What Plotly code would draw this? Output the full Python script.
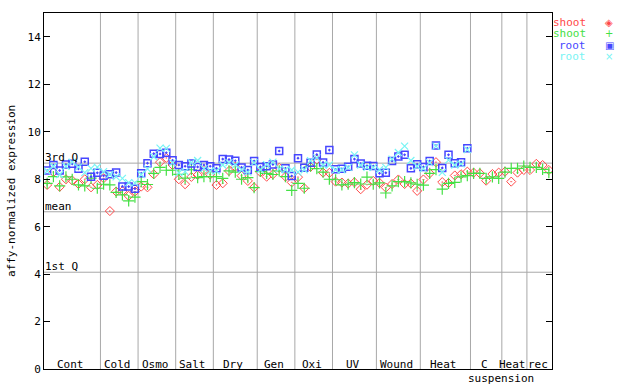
import plotly.graph_objects as go

groups = ["Cont", "Cold", "Osmo", "Salt", "Dry", "Gen", "Oxi", "UV", "Wound", "Heat", "C", "Heat", "rec"]
group_sizes = [9, 6, 6, 6, 7, 6, 6, 7, 7, 8, 5, 4, 4]

shoot_a = [7.76, 8.30, 7.68, 8.00, 7.95, 7.80, 8.00, 7.66, 7.76,
           8.04, 6.66, 7.48, 7.50, 7.30, 7.48,
           7.69, 7.66, 8.21, 8.72, 8.90, 8.60,
           8.00, 7.79, 8.10, 8.18, 8.39, 8.20,
           7.76, 7.83, 8.35, 8.53, 8.15, 7.93, 7.66,
           8.30, 8.11, 8.21, 8.48, 8.11, 7.87,
           8.09, 7.62, 8.52, 8.83, 8.28, 8.27,
           7.90, 7.86, 7.82, 7.87, 7.58, 7.77, 7.93,
           7.85, 7.65, 7.80, 7.99, 7.80, 7.82, 7.51,
           7.99, 8.25, 8.72, 7.88, 7.84, 8.16, 8.21, 8.32,
           8.28, 8.25, 7.94, 8.22, 8.28,
           8.32, 7.90, 8.28, 8.39,
           8.39, 8.65, 8.60, 8.39]

shoot_b = [7.83, 8.11, 7.72, 8.10, 8.00, 7.76, 7.72, 8.05, 7.62,
           7.79, 7.76, 7.45, 7.34, 7.09, 7.25,
           7.90, 7.78, 8.25, 8.50, 8.38, 8.38,
           8.21, 8.05, 8.40, 8.07, 8.11, 8.11,
           8.11, 8.04, 8.35, 8.30, 8.00, 8.07, 7.65,
           8.33, 8.25, 8.20, 8.35, 8.11, 7.53,
           7.83, 7.62, 8.55, 8.45, 8.30, 8.00,
           7.98, 7.76, 7.79, 7.86, 7.80, 8.09, 7.79,
           7.85, 7.42, 7.72, 7.90, 7.90, 7.85, 7.79,
           7.75, 8.25, 8.41, 7.58, 7.83, 7.87, 8.10, 8.15,
           8.25, 8.25, 8.04, 8.10, 8.04,
           8.30, 8.46, 8.46, 8.56,
           8.50, 8.50, 8.42, 8.28]

root_a = [8.37, 8.60, 8.37, 8.62, 8.65, 8.44, 8.74, 8.11, 8.27,
          8.15, 8.21, 8.28, 7.70, 7.69, 7.60,
          8.25, 8.68, 9.08, 9.07, 9.12, 8.80,
          8.60, 8.55, 8.66, 8.52, 8.60, 8.55,
          8.46, 8.85, 8.83, 8.78, 8.50, 8.39, 8.77,
          8.52, 8.55, 8.62, 9.19, 8.46, 8.14,
          8.89, 8.49, 8.70, 9.04, 8.71, 9.23,
          8.42, 8.44, 8.53, 8.85, 8.66, 8.57, 8.56,
          8.25, 8.27, 8.77, 8.96, 9.03, 8.46, 8.63,
          8.52, 8.77, 9.42, 8.48, 9.03, 8.68, 8.72, 9.31] + [None] * 13

root_b = [8.35, 8.55, 8.20, 8.55, 8.72, 8.51, 8.28, 8.46, 8.51,
          8.32, 8.20, 8.10, 8.04, 7.86, 7.85,
          8.20, 8.44, 8.95, 9.31, 9.30, 8.70,
          8.27, 8.32, 8.70, 8.79, 8.45, 8.35,
          8.35, 8.60, 8.70, 8.60, 8.40, 8.30, 8.70,
          8.40, 8.62, 8.72, 8.44, 8.40, 8.39,
          8.30, 8.40, 8.78, 8.90, 8.60, 8.60,
          8.40, 8.40, 8.50, 9.03, 8.60, 8.50, 8.50,
          8.40, 8.50, 8.85, 9.13, 9.40, 8.79, 8.55,
          8.45, 8.70, 9.40, 8.29, 8.81, 8.60, 8.65, 9.25] + [None] * 13

ref_lines = {"3rd Q": 8.68, "mean": 6.63, "1st Q": 4.08}
y_ticks = [0, 2, 4, 6, 8, 10, 12, 14]
sub_label = "suspension"
y_title = "affy-normalized expression"

FONT = "DejaVu Sans Mono"
RED, GREEN, BLUE, CYAN = "#ff4848", "#44e044", "#4646ff", "#78f4f4"

W, H = 640, 384
L, R, T, B = 44, 88, 13, 15
PW, PH = W - L - R, H - T - B


def px(xp):
    return (xp - L) / PW


def py(yp):
    return (H - B - yp) / PH


n = sum(group_sizes)
xs = list(range(n))

fig = go.Figure()
series = [
    ("shoot", shoot_a, RED, "diamond-open-dot", 7, 1),
    ("shoot", shoot_b, GREEN, "cross-thin-open", 8, 1.2),
    ("root", root_a, BLUE, "square-open-dot", 7, 1.5),
    ("root", root_b, CYAN, "x-thin-open", 7, 1.2),
]
for name, vals, col, sym, sz, lw in series:
    fig.add_trace(go.Scatter(
        x=xs, y=vals, mode="markers", name=name, showlegend=False, hoverinfo="skip",
        marker=dict(symbol=sym, size=sz, color=col, line=dict(color=col, width=lw)),
    ))

shapes = []
annotations = []
start = 0
for g, sz in zip(groups, group_sizes):
    end = start + sz
    if end < n:
        shapes.append(dict(type="line", xref="x", yref="paper", x0=end - 0.5, x1=end - 0.5,
                           y0=0, y1=1, line=dict(color="#a8a8a8", width=1), layer="below"))
    annotations.append(dict(x=(start + end - 1) / 2 - 0.3, y=0, xref="x", yref="paper",
                            text=g, showarrow=False, yanchor="middle", yshift=5,
                            font=dict(family=FONT, size=11, color="#000")))
    start = end

for lab, v in ref_lines.items():
    shapes.append(dict(type="line", xref="paper", yref="y", x0=0, x1=1, y0=v, y1=v,
                       line=dict(color="#a8a8a8", width=1), layer="below"))
    annotations.append(dict(x=0, y=v, xref="paper", yref="y", text=lab, showarrow=False,
                            xanchor="left", yanchor="bottom", xshift=-1, yshift=-3,
                            font=dict(family=FONT, size=11, color="#000")))

# suspension label
annotations.append(dict(x=72.3, y=0, xref="x", yref="paper", text=sub_label, showarrow=False,
                        yanchor="middle", yshift=-9, font=dict(family=FONT, size=11, color="#000")))

# y axis title
annotations.append(dict(x=px(11), y=py(191), xref="paper", yref="paper", text=y_title,
                        textangle=-90, showarrow=False, xanchor="center", yanchor="middle",
                        font=dict(family=FONT, size=11, color="#000")))

# legend (text right-aligned, symbol to the right)
leg = [("shoot", RED, "◈"), ("shoot", GREEN, "+"), ("root", BLUE, "▣"), ("root", CYAN, "×")]
for k, (t, col, sym) in enumerate(leg):
    yy = 23 + 11 * k
    annotations.append(dict(x=px(587), y=py(yy), xref="paper", yref="paper", text=t,
                            showarrow=False, xanchor="right", yanchor="middle", borderpad=0,
                            font=dict(family=FONT, size=11, color=col)))
    annotations.append(dict(x=px(609), y=py(yy), xref="paper", yref="paper", text=sym,
                            showarrow=False, xanchor="center", yanchor="middle", borderpad=0,
                            font=dict(family="DejaVu Sans", size=10, color=col)))

fig.update_layout(
    width=W, height=H,
    margin=dict(l=L, r=R, t=T, b=B, autoexpand=False),
    paper_bgcolor="white", plot_bgcolor="white",
    showlegend=False, hovermode=False,
    font=dict(family=FONT, size=11, color="#000"),
    shapes=shapes, annotations=annotations,
)

fig.update_xaxes(range=[-0.5, n - 0.5], showgrid=False, zeroline=False, showticklabels=False,
                 ticks="", showline=True, linecolor="#000", linewidth=1, mirror=True,
                 automargin=False)
fig.update_yaxes(range=[0, 15.01], tickvals=y_ticks, showgrid=False, zeroline=False,
                 ticks="inside", ticklen=6, tickcolor="#000", mirror="ticks",
                 showline=True, linecolor="#000", linewidth=1, automargin=False,
                 tickfont=dict(family=FONT, size=11))

fig.write_html("out.html", config={"displayModeBar": False},
               post_script="document.body.style.margin='0';document.body.style.padding='0';")
